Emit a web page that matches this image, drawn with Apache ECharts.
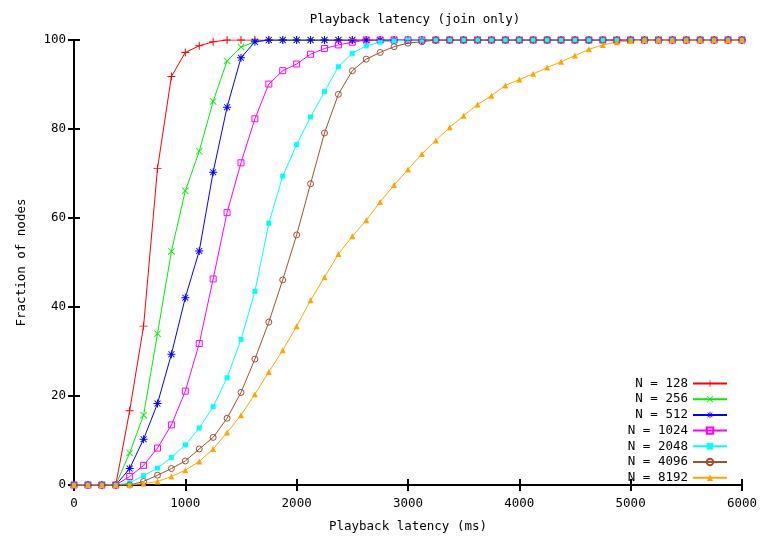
<!DOCTYPE html>
<html>
<head>
<meta charset="utf-8">
<script src="https://cdn.jsdelivr.net/npm/echarts@6/dist/echarts.min.js"></script>
<style>
    html, body { margin: 0; padding: 0; background: #fff; }
    #chart { width: 760px; height: 538px; }
</style>
</head>
<body>
<div id="chart"></div>
<script>
// sample points along the x axis (ms)
const latency = [
    0, 125, 250, 375, 500, 625, 750, 875, 1000, 1125, 1250, 1375, 1500, 1625, 1750, 1875,
    2000, 2125, 2250, 2375, 2500, 2625, 2750, 2875, 3000, 3125, 3250, 3375, 3500, 3625, 3750, 3875,
    4000, 4125, 4250, 4375, 4500, 4625, 4750, 4875, 5000, 5125, 5250, 5375, 5500, 5625, 5750, 5875, 6000
];
const seriesNames = ['N = 128', 'N = 256', 'N = 512', 'N = 1024', 'N = 2048', 'N = 4096', 'N = 8192'];

const n128 = [
    0, 0, 0, 0, 16.7, 35.7, 71.1, 91.8, 97.2, 98.7, 99.6, 100, 100, 100, 100, 100,
    100, 100, 100, 100, 100, 100, 100, 100, 100, 100, 100, 100, 100, 100, 100, 100,
    100, 100, 100, 100, 100, 100, 100, 100, 100, 100, 100, 100, 100, 100, 100, 100, 100
];
const n256 = [
    0, 0, 0, 0, 7.2, 15.7, 34.0, 52.5, 66.1, 75.0, 86.2, 95.3, 98.4, 99.6, 100, 100,
    100, 100, 100, 100, 100, 100, 100, 100, 100, 100, 100, 100, 100, 100, 100, 100,
    100, 100, 100, 100, 100, 100, 100, 100, 100, 100, 100, 100, 100, 100, 100, 100, 100
];
const n512 = [
    0, 0, 0, 0, 3.7, 10.3, 18.3, 29.4, 42.1, 52.6, 70.3, 84.9, 96.0, 99.6, 100, 100,
    100, 100, 100, 100, 100, 100, 100, 100, 100, 100, 100, 100, 100, 100, 100, 100,
    100, 100, 100, 100, 100, 100, 100, 100, 100, 100, 100, 100, 100, 100, 100, 100, 100
];
const n1024 = [
    0, 0, 0, 0, 1.9, 4.4, 8.3, 13.5, 21.1, 31.8, 46.3, 61.2, 72.4, 82.3, 90.1, 93.1,
    94.6, 96.8, 98.1, 98.9, 99.5, 100, 100, 100, 100, 100, 100, 100, 100, 100, 100, 100,
    100, 100, 100, 100, 100, 100, 100, 100, 100, 100, 100, 100, 100, 100, 100, 100, 100
];
const n2048 = [
    0, 0, 0, 0, 0.5, 2.1, 3.8, 6.2, 9.0, 12.8, 17.6, 24.1, 32.7, 43.5, 58.8, 69.4,
    76.5, 82.7, 88.4, 94.0, 97.0, 98.7, 99.5, 99.8, 100, 100, 100, 100, 100, 100, 100, 100,
    100, 100, 100, 100, 100, 100, 100, 100, 100, 100, 100, 100, 100, 100, 100, 100, 100
];
const n4096 = [
    0, 0, 0, 0, 0, 0.8, 2.2, 3.7, 5.4, 8.1, 10.7, 15.0, 20.8, 28.3, 36.6, 46.1,
    56.2, 67.7, 79.1, 87.8, 93.1, 95.7, 97.2, 98.5, 99.3, 99.6, 100, 100, 100, 100, 100, 100,
    100, 100, 100, 100, 100, 100, 100, 100, 100, 100, 100, 100, 100, 100, 100, 100, 100
];
const n8192 = [
    0, 0, 0, 0, 0, 0.3, 0.8, 1.9, 3.3, 5.3, 8.1, 11.8, 15.7, 20.4, 25.4, 30.3,
    35.7, 41.5, 46.7, 51.9, 55.9, 59.5, 63.6, 67.4, 70.9, 74.4, 77.4, 80.4, 83.0, 85.5, 87.5, 89.8,
    91.1, 92.4, 93.8, 95.1, 96.5, 97.9, 98.9, 99.5, 99.8, 100, 100, 100, 100, 100, 100, 100, 100
];

const FONT = 'DejaVu Sans Mono';

const plusPath = 'path://M0,4.4H10V5.6H0Z M4.4,0H5.6V10H4.4Z';
const crossPath = 'path://M0.5,1.3L1.3,0.5L9.5,8.7L8.7,9.5Z M8.7,0.5L9.5,1.3L1.3,9.5L0.5,8.7Z';
const starPath = 'path://M0,4.4H10V5.6H0Z M4.4,0H5.6V10H4.4Z M0.9,1.7L1.7,0.9L9.1,8.3L8.3,9.1Z M8.3,0.9L9.1,1.7L1.7,9.1L0.9,8.3Z';

function makeSeries(name, values, color, symbol, size, hollow) {
    return {
        name: name,
        type: 'line',
        data: latency.map((x, i) => [x, values[i]]),
        symbol: symbol,
        symbolSize: size,
        showAllSymbol: true,
        lineStyle: { color: color, width: 1 },
        itemStyle: hollow
            ? { color: 'rgba(255,255,255,0)', borderColor: color, borderWidth: 1 }
            : { color: color, borderWidth: 0 },
        emphasis: { disabled: true },
        animation: false
    };
}

const chart = echarts.init(document.getElementById('chart'));

const axisLine = { show: true, lineStyle: { color: '#000', width: 2 } };
const axisTick = { show: true, inside: true, length: 6, lineStyle: { color: '#000', width: 2 } };
const plain = v => String(v);

chart.setOption({
    backgroundColor: '#fff',
    title: {
        text: 'Playback latency (join only)',
        left: 410,
        textAlign: 'center',
        top: 8,
        textStyle: { fontFamily: FONT, fontSize: 12.5, fontWeight: 'normal', color: '#000' }
    },
    grid: { left: 74, right: 18, top: 40, bottom: 51 },
    legend: {
        orient: 'vertical',
        right: 27,
        top: 372,
        align: 'right',
        itemWidth: 34,
        itemHeight: 8,
        itemGap: 2.7,
        selectedMode: false,
        data: seriesNames,
        textStyle: { fontFamily: FONT, fontSize: 12.5, color: '#000', width: 64, align: 'right' }
    },
    xAxis: [
        {
            type: 'value',
            min: 0,
            max: 6000,
            interval: 1000,
            name: 'Playback latency (ms)',
            nameLocation: 'middle',
            nameGap: 35,
            nameTextStyle: { fontFamily: FONT, fontSize: 12.5, color: '#000' },
            axisLine: axisLine,
            axisTick: axisTick,
            axisLabel: { fontFamily: FONT, fontSize: 12.5, color: '#000', margin: 12, formatter: plain },
            splitLine: { show: false }
        },
        {
            type: 'value',
            position: 'top',
            min: 0,
            max: 6000,
            interval: 1000,
            axisLine: axisLine,
            axisTick: axisTick,
            axisLabel: { show: false },
            splitLine: { show: false }
        }
    ],
    yAxis: [
        {
            type: 'value',
            min: 0,
            max: 100,
            interval: 20,
            name: 'Fraction of nodes',
            nameLocation: 'middle',
            nameGap: 46,
            nameTextStyle: { fontFamily: FONT, fontSize: 12.5, color: '#000' },
            axisLine: axisLine,
            axisTick: axisTick,
            axisLabel: { fontFamily: FONT, fontSize: 12.5, color: '#000', margin: 8, formatter: plain },
            splitLine: { show: false }
        },
        {
            type: 'value',
            position: 'right',
            min: 0,
            max: 100,
            interval: 20,
            axisLine: axisLine,
            axisTick: axisTick,
            axisLabel: { show: false },
            splitLine: { show: false }
        }
    ],
    series: [
        makeSeries(seriesNames[0], n128, '#ff0000', plusPath, 8, false),
        makeSeries(seriesNames[1], n256, '#00ee00', crossPath, 7, false),
        makeSeries(seriesNames[2], n512, '#0000ff', starPath, 8, false),
        makeSeries(seriesNames[3], n1024, '#ff00ff', 'rect', 6, true),
        makeSeries(seriesNames[4], n2048, '#00ffff', 'rect', 5, false),
        makeSeries(seriesNames[5], n4096, '#a0522d', 'circle', 6, true),
        makeSeries(seriesNames[6], n8192, '#ffa500', 'triangle', 6, false)
    ]
});
</script>
</body>
</html>
